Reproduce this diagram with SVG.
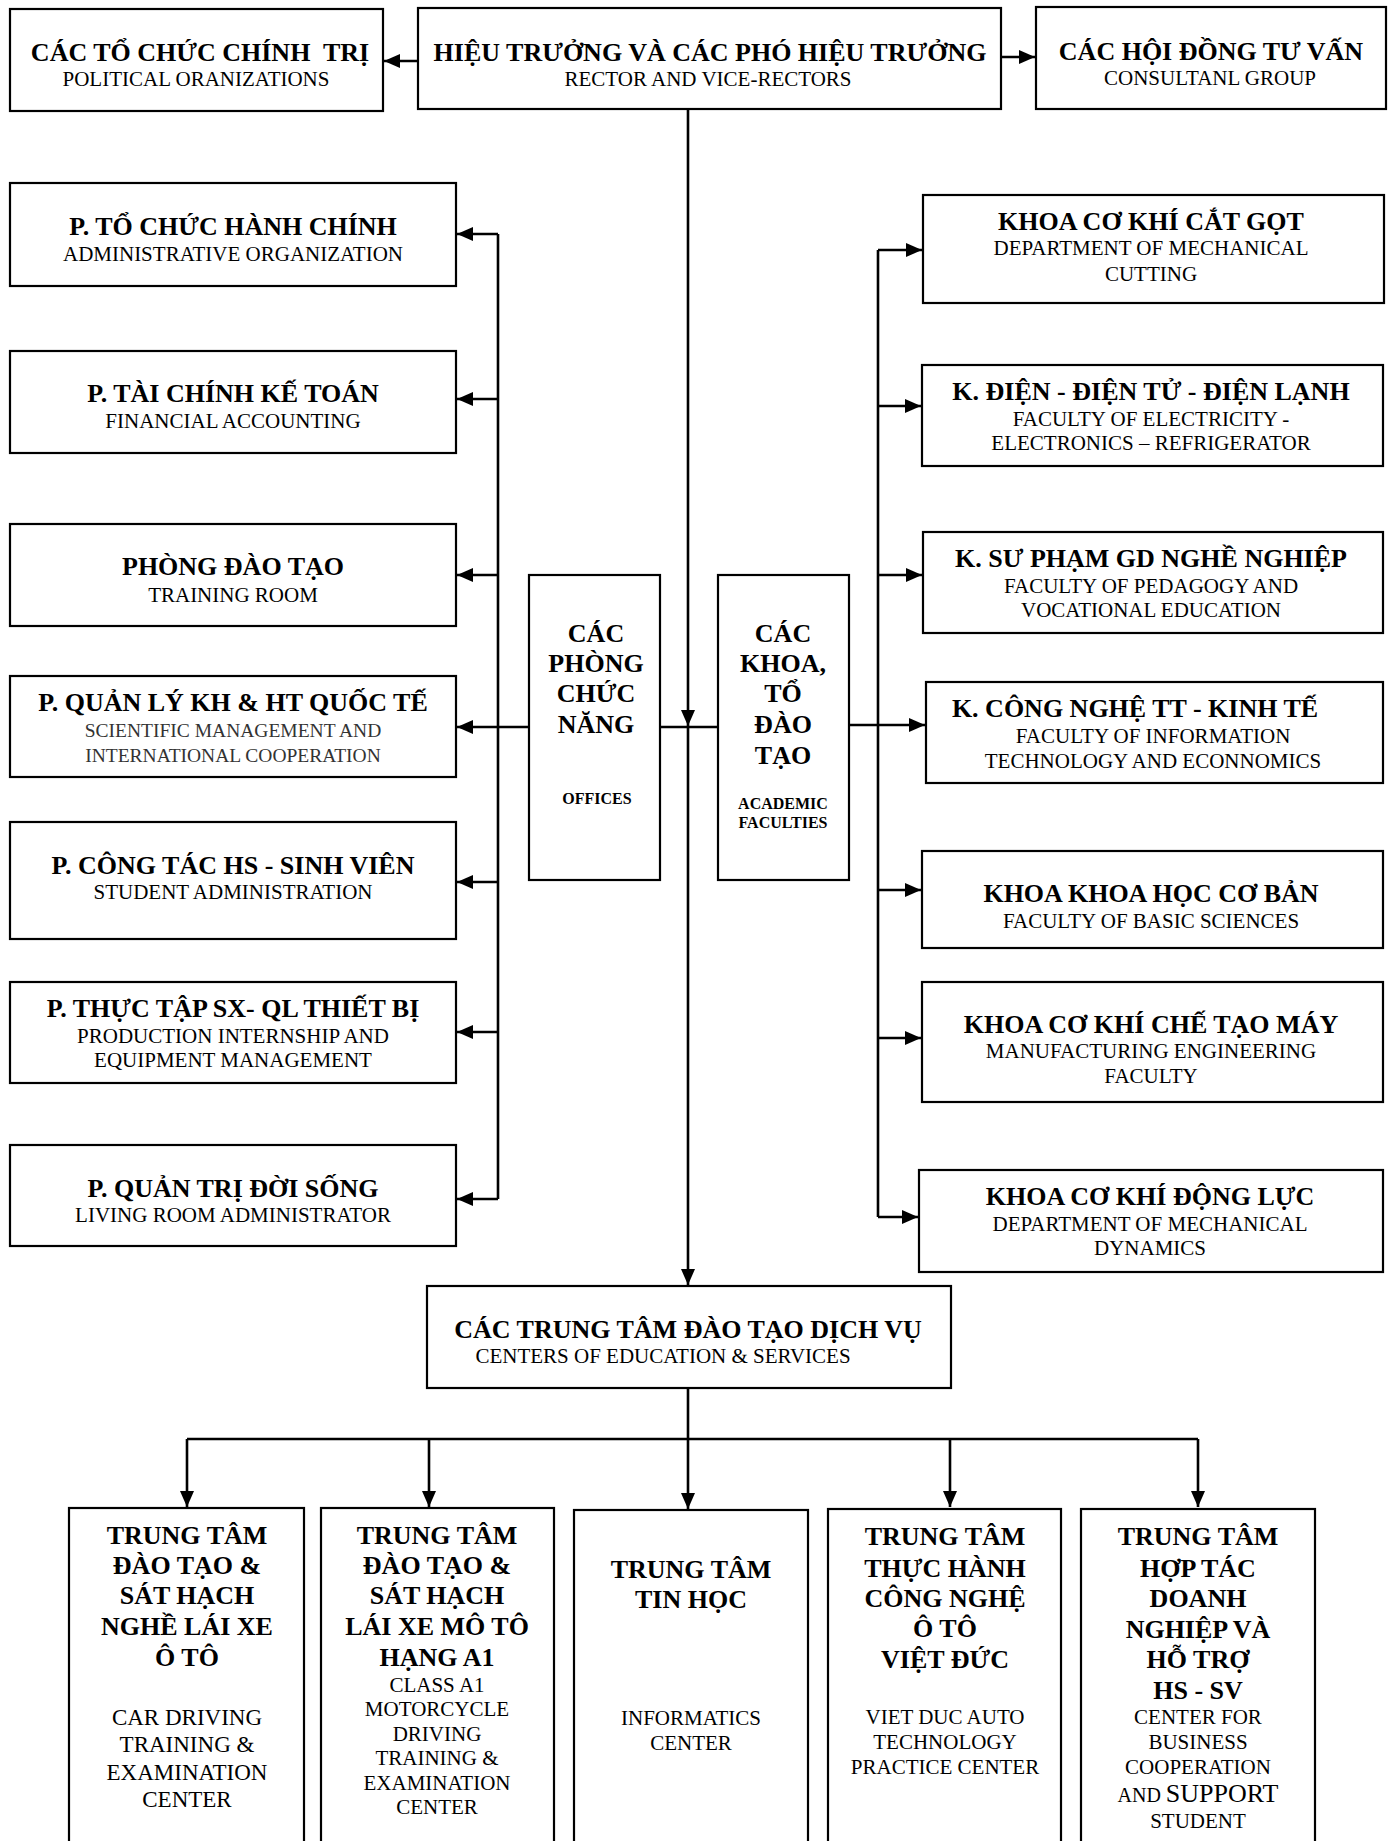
<svg xmlns="http://www.w3.org/2000/svg" width="1388" height="1841" viewBox="0 0 1388 1841">
<style>
.box{fill:#fff;stroke:#000;stroke-width:2.2}
.t{font-family:"Liberation Serif","Times New Roman",serif;font-weight:bold;font-size:26px;fill:#000;text-anchor:middle}
.s{font-family:"Liberation Serif","Times New Roman",serif;font-size:21px;fill:#000;text-anchor:middle}
.c{font-family:"Liberation Serif","Times New Roman",serif;font-size:19.5px;fill:#333;text-anchor:middle}
.sm{font-family:"Liberation Serif","Times New Roman",serif;font-weight:bold;font-size:16px;fill:#000;text-anchor:middle}
.b1{font-size:23px}
.ln{fill:none;stroke:#000;stroke-width:2.6}
</style>
<defs>
<marker id="ah" markerUnits="userSpaceOnUse" markerWidth="16" markerHeight="14" viewBox="0 0 16 14" refX="16" refY="7" orient="auto">
<path d="M0,0 L16,7 L0,14 z" fill="#000"/>
</marker>
</defs>
<rect width="1388" height="1841" fill="#fff"/>

<g id="connectors">
<path class="ln" d="M418,61 H384" marker-end="url(#ah)"/>
<path class="ln" d="M1001,57 H1035" marker-end="url(#ah)"/>
<path class="ln" d="M688,109 V726" marker-end="url(#ah)"/>
<path class="ln" d="M688,726 V1285" marker-end="url(#ah)"/>
<path class="ln" d="M660,727 H718"/>
<path class="ln" d="M498,234 V1199"/>
<path class="ln" d="M498,234 H457" marker-end="url(#ah)"/>
<path class="ln" d="M498,399 H457" marker-end="url(#ah)"/>
<path class="ln" d="M498,575 H457" marker-end="url(#ah)"/>
<path class="ln" d="M529,727 H457" marker-end="url(#ah)"/>
<path class="ln" d="M498,882 H457" marker-end="url(#ah)"/>
<path class="ln" d="M498,1032 H457" marker-end="url(#ah)"/>
<path class="ln" d="M498,1199 H457" marker-end="url(#ah)"/>
<path class="ln" d="M878,250 V1217"/>
<path class="ln" d="M878,250 H922" marker-end="url(#ah)"/>
<path class="ln" d="M878,406 H921" marker-end="url(#ah)"/>
<path class="ln" d="M878,575 H922" marker-end="url(#ah)"/>
<path class="ln" d="M848,725 H925" marker-end="url(#ah)"/>
<path class="ln" d="M878,890 H921" marker-end="url(#ah)"/>
<path class="ln" d="M878,1038 H921" marker-end="url(#ah)"/>
<path class="ln" d="M878,1217 H918" marker-end="url(#ah)"/>
<path class="ln" d="M688,1388 V1439"/>
<path class="ln" d="M187,1439 H1198"/>
<path class="ln" d="M187,1439 V1507" marker-end="url(#ah)"/>
<path class="ln" d="M429,1439 V1507" marker-end="url(#ah)"/>
<path class="ln" d="M688,1439 V1509" marker-end="url(#ah)"/>
<path class="ln" d="M950,1439 V1507" marker-end="url(#ah)"/>
<path class="ln" d="M1198,1439 V1507" marker-end="url(#ah)"/>
</g>

<g id="political">
<rect class="box" x="10" y="9" width="373" height="102"/>
<text class="t" x="200" y="61">CÁC TỔ CHỨC CHÍNH&#160; TRỊ</text>
<text class="s" x="196" y="86">POLITICAL ORANIZATIONS</text>
</g>
<g id="rector">
<rect class="box" x="418" y="8" width="583" height="101"/>
<text class="t" x="710" y="61">HIỆU TRƯỞNG VÀ CÁC PHÓ HIỆU TRƯỞNG</text>
<text class="s" x="708" y="86">RECTOR AND VICE-RECTORS</text>
</g>
<g id="consultant">
<rect class="box" x="1036" y="7" width="350" height="102"/>
<text class="t" x="1211" y="60">CÁC HỘI ĐỒNG TƯ VẤN</text>
<text class="s" x="1210" y="85">CONSULTANL GROUP</text>
</g>

<g id="offices">
<rect class="box" x="529" y="575" width="131" height="305"/>
<text class="t" x="596" y="642">CÁC</text>
<text class="t" x="596" y="672">PHÒNG</text>
<text class="t" x="596" y="702">CHỨC</text>
<text class="t" x="596" y="733">NĂNG</text>
<text class="sm" x="597" y="804">OFFICES</text>
</g>
<g id="faculties">
<rect class="box" x="718" y="575" width="131" height="305"/>
<text class="t" x="783" y="642">CÁC</text>
<text class="t" x="783" y="672">KHOA,</text>
<text class="t" x="783" y="702">TỔ</text>
<text class="t" x="783" y="733">ĐÀO</text>
<text class="t" x="783" y="764">TẠO</text>
<text class="sm" x="783" y="809">ACADEMIC</text>
<text class="sm" x="783" y="828">FACULTIES</text>
</g>

<g id="p-tochuc">
<rect class="box" x="10" y="183" width="446" height="103"/>
<text class="t" x="233" y="235">P. TỔ CHỨC HÀNH CHÍNH</text>
<text class="s" x="233" y="261">ADMINISTRATIVE ORGANIZATION</text>
</g>
<g id="p-taichinh">
<rect class="box" x="10" y="351" width="446" height="102"/>
<text class="t" x="233" y="402">P. TÀI CHÍNH KẾ TOÁN</text>
<text class="s" x="233" y="428">FINANCIAL ACCOUNTING</text>
</g>
<g id="p-daotao">
<rect class="box" x="10" y="524" width="446" height="102"/>
<text class="t" x="233" y="575">PHÒNG ĐÀO TẠO</text>
<text class="s" x="233" y="602">TRAINING ROOM</text>
</g>
<g id="p-quanly">
<rect class="box" x="10" y="676" width="446" height="101"/>
<text class="t" x="233" y="711">P. QUẢN LÝ KH &amp; HT QUỐC TẾ</text>
<text class="c" x="233" y="737">SCIENTIFIC MANAGEMENT AND</text>
<text class="c" x="233" y="762">INTERNATIONAL COOPERATION</text>
</g>
<g id="p-congtac">
<rect class="box" x="10" y="822" width="446" height="117"/>
<text class="t" x="233" y="874">P. CÔNG TÁC HS - SINH VIÊN</text>
<text class="s" x="233" y="899">STUDENT ADMINISTRATION</text>
</g>
<g id="p-thuctap">
<rect class="box" x="10" y="982" width="446" height="101"/>
<text class="t" x="233" y="1017">P. THỰC TẬP SX- QL THIẾT BỊ</text>
<text class="s" x="233" y="1043">PRODUCTION INTERNSHIP AND</text>
<text class="s" x="233" y="1067">EQUIPMENT MANAGEMENT</text>
</g>
<g id="p-quantri">
<rect class="box" x="10" y="1145" width="446" height="101"/>
<text class="t" x="233" y="1197">P. QUẢN TRỊ ĐỜI SỐNG</text>
<text class="s" x="233" y="1222">LIVING ROOM ADMINISTRATOR</text>
</g>

<g id="k-catgot">
<rect class="box" x="923" y="195" width="461" height="108"/>
<text class="t" x="1151" y="230">KHOA CƠ KHÍ CẮT GỌT</text>
<text class="s" x="1151" y="255">DEPARTMENT OF MECHANICAL</text>
<text class="s" x="1151" y="281">CUTTING</text>
</g>
<g id="k-dien">
<rect class="box" x="922" y="365" width="461" height="101"/>
<text class="t" x="1151" y="400">K. ĐIỆN - ĐIỆN TỬ - ĐIỆN LẠNH</text>
<text class="s" x="1151" y="426">FACULTY OF ELECTRICITY -</text>
<text class="s" x="1151" y="450">ELECTRONICS – REFRIGERATOR</text>
</g>
<g id="k-supham">
<rect class="box" x="923" y="532" width="460" height="101"/>
<text class="t" x="1151" y="567">K. SƯ PHẠM GD NGHỀ NGHIỆP</text>
<text class="s" x="1151" y="593">FACULTY OF PEDAGOGY AND</text>
<text class="s" x="1151" y="617">VOCATIONAL EDUCATION</text>
</g>
<g id="k-cntt">
<rect class="box" x="926" y="682" width="457" height="101"/>
<text class="t" x="1135" y="717">K. CÔNG NGHỆ TT - KINH TẾ</text>
<text class="s" x="1153" y="743">FACULTY OF INFORMATION</text>
<text class="s" x="1153" y="768">TECHNOLOGY AND ECONNOMICS</text>
</g>
<g id="k-coban">
<rect class="box" x="922" y="851" width="461" height="97"/>
<text class="t" x="1151" y="902">KHOA KHOA HỌC CƠ BẢN</text>
<text class="s" x="1151" y="928">FACULTY OF BASIC SCIENCES</text>
</g>
<g id="k-chetao">
<rect class="box" x="922" y="982" width="461" height="120"/>
<text class="t" x="1151" y="1033">KHOA CƠ KHÍ CHẾ TẠO MÁY</text>
<text class="s" x="1151" y="1058">MANUFACTURING ENGINEERING</text>
<text class="s" x="1151" y="1083">FACULTY</text>
</g>
<g id="k-donglu">
<rect class="box" x="919" y="1170" width="464" height="102"/>
<text class="t" x="1150" y="1205">KHOA CƠ KHÍ ĐỘNG LỰC</text>
<text class="s" x="1150" y="1231">DEPARTMENT OF MECHANICAL</text>
<text class="s" x="1150" y="1255">DYNAMICS</text>
</g>

<g id="centers">
<rect class="box" x="427" y="1286" width="524" height="102"/>
<text class="t" x="688" y="1338">CÁC TRUNG TÂM ĐÀO TẠO DỊCH VỤ</text>
<text class="s" x="663" y="1363">CENTERS OF EDUCATION &amp; SERVICES</text>
</g>

<g id="c-oto">
<rect class="box" x="69" y="1508" width="235" height="400"/>
<text class="t" x="187" y="1544">TRUNG TÂM</text>
<text class="t" x="187" y="1574">ĐÀO TẠO &amp;</text>
<text class="t" x="187" y="1604">SÁT HẠCH</text>
<text class="t" x="187" y="1635">NGHỀ LÁI XE</text>
<text class="t" x="187" y="1666">Ô TÔ</text>
<text class="s b1" x="187" y="1725">CAR DRIVING</text>
<text class="s b1" x="187" y="1752">TRAINING &amp;</text>
<text class="s b1" x="187" y="1780">EXAMINATION</text>
<text class="s b1" x="187" y="1807">CENTER</text>
</g>
<g id="c-moto">
<rect class="box" x="321" y="1508" width="233" height="400"/>
<text class="t" x="437" y="1544">TRUNG TÂM</text>
<text class="t" x="437" y="1574">ĐÀO TẠO &amp;</text>
<text class="t" x="437" y="1604">SÁT HẠCH</text>
<text class="t" x="437" y="1635">LÁI XE MÔ TÔ</text>
<text class="t" x="437" y="1666">HẠNG A1</text>
<text class="s" x="437" y="1692">CLASS A1</text>
<text class="s" x="437" y="1716">MOTORCYCLE</text>
<text class="s" x="437" y="1741">DRIVING</text>
<text class="s" x="437" y="1765">TRAINING &amp;</text>
<text class="s" x="437" y="1790">EXAMINATION</text>
<text class="s" x="437" y="1814">CENTER</text>
</g>
<g id="c-tinhoc">
<rect class="box" x="574" y="1510" width="234" height="400"/>
<text class="t" x="691" y="1578">TRUNG TÂM</text>
<text class="t" x="691" y="1608">TIN HỌC</text>
<text class="s" x="691" y="1725">INFORMATICS</text>
<text class="s" x="691" y="1750">CENTER</text>
</g>
<g id="c-vietduc">
<rect class="box" x="828" y="1509" width="233" height="400"/>
<text class="t" x="945" y="1545">TRUNG TÂM</text>
<text class="t" x="945" y="1577">THỰC HÀNH</text>
<text class="t" x="945" y="1607">CÔNG NGHỆ</text>
<text class="t" x="945" y="1637">Ô TÔ</text>
<text class="t" x="945" y="1668">VIỆT ĐỨC</text>
<text class="s" x="945" y="1724">VIET DUC AUTO</text>
<text class="s" x="945" y="1749">TECHNOLOGY</text>
<text class="s" x="945" y="1774">PRACTICE CENTER</text>
</g>
<g id="c-hoptac">
<rect class="box" x="1081" y="1509" width="234" height="400"/>
<text class="t" x="1198" y="1545">TRUNG TÂM</text>
<text class="t" x="1198" y="1577">HỢP TÁC</text>
<text class="t" x="1198" y="1607">DOANH</text>
<text class="t" x="1198" y="1638">NGHIỆP VÀ</text>
<text class="t" x="1198" y="1668">HỖ TRỢ</text>
<text class="t" x="1198" y="1699">HS - SV</text>
<text class="s" x="1198" y="1724">CENTER FOR</text>
<text class="s" x="1198" y="1749">BUSINESS</text>
<text class="s" x="1198" y="1774">COOPERATION</text>
<text class="s" x="1198" y="1802"><tspan font-size="20">AND </tspan><tspan font-size="26">SUPPORT</tspan></text>
<text class="s" x="1198" y="1828">STUDENT</text>
</g>
</svg>
